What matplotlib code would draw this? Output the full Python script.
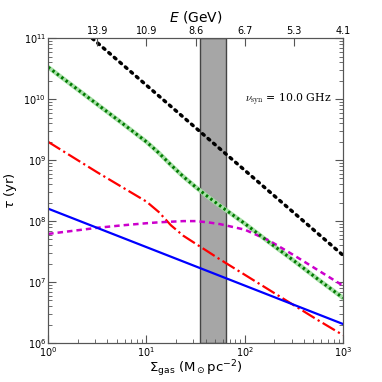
import numpy as np
import matplotlib
matplotlib.use('Agg')
import matplotlib.pyplot as plt

plt.rcParams['mathtext.fontset'] = 'dejavusans'

# Gas surface density grid (log10 Msun/pc^2)
logSigma = [0.0, 0.25, 0.5, 0.75, 1.0, 1.125, 1.25, 1.375, 1.5, 1.625, 1.75, 2.0, 2.25, 2.5, 2.75, 3.0]

# log10 timescales (yr)
logTauGreen = [10.525, 10.22, 9.915, 9.61, 9.30, 9.12, 8.92, 8.73, 8.56, 8.40, 8.25, 7.96, 7.65, 7.35, 7.04, 6.74]
logTauRed = [9.30, 9.05, 8.80, 8.56, 8.32, 8.15, 7.93, 7.76, 7.63, 7.50, 7.37, 7.12, 6.87, 6.62, 6.37, 6.13]
logTauMagenta = [7.79, 7.84, 7.89, 7.93, 7.965, 7.98, 7.99, 8.0, 8.0, 7.98, 7.95, 7.86, 7.68, 7.44, 7.19, 6.94]

# straight lines: endpoints at Sigma = 1 and 1000
sigmaEnds = [1.0, 1000.0]
tauBlue = [1.6e8, 2.05e6]
tauBlack = [4.2e11, 2.75e7]

# shaded band in Sigma
bandSigma = [35.0, 65.0]

# top axis: electron energy labels
topTickSigma = [10**0.5, 10**1.0, 10**1.5, 10**2.0, 10**2.5, 10**3.0]
topTickLabels = ['13.9', '10.9', '8.6', '6.7', '5.3', '4.1']

sigma = 10**np.array(logSigma)

fig = plt.figure(figsize=(3.82, 3.82), dpi=100)
ax = fig.add_axes([0.126, 0.102, 0.772, 0.798])

ax.axvspan(bandSigma[0], bandSigma[1], facecolor='#a6a6a6', edgecolor='#444444', lw=1.0, zorder=1)

ax.plot(sigmaEnds, tauBlack, color='black', ls=(0, (0.6, 1.5)), lw=2.5, dash_capstyle='round', zorder=3)
ax.plot(sigma, 10**np.array(logTauGreen), color='#a8e0a8', lw=3.2, zorder=3)
ax.plot(sigma, 10**np.array(logTauGreen), color='#007a00', ls=(0, (0.8, 1.0)), lw=2.2, zorder=4)
ax.plot(sigma, 10**np.array(logTauRed), color='red', ls='-.', lw=1.6, zorder=3)
ax.plot(sigma, 10**np.array(logTauMagenta), color='#cc00cc', ls=(0, (2.2, 1.6)), lw=1.8, zorder=3)
ax.plot(sigmaEnds, tauBlue, color='blue', ls='-', lw=1.6, zorder=3)

ax.set_xscale('log')
ax.set_yscale('log')
ax.set_xlim(1, 1000)
ax.set_ylim(1e6, 1e11)

for sp in ax.spines.values():
    sp.set_color('#555555')
ax.tick_params(which='both', direction='in', right=True, top=False, colors='#555555',
               labelcolor='black', labelsize=7, pad=1.5)
ax.tick_params(which='major', length=6)
ax.tick_params(which='minor', length=3)

ax.set_xlabel(r'$\Sigma_{\rm gas}$ (M$_\odot$pc$^{-2}$)', fontsize=9.5)
ax.set_ylabel(r'$\tau$ (yr)', fontsize=9.5)
ax.xaxis.set_label_coords(0.5, -0.05)
ax.yaxis.set_label_coords(-0.10, 0.5)

ax.text(0.668, 0.79, r'$\nu_{\rm syn}$ = 10.0 GHz', transform=ax.transAxes, fontsize=7.8,
        family='DejaVu Serif', math_fontfamily='cm')

# Top axis with energy labels
axTop = ax.twiny()
axTop.set_xscale('log')
axTop.set_xlim(1, 1000)
axTop.set_xticks(topTickSigma)
axTop.set_xticklabels(topTickLabels)
axTop.xaxis.set_minor_locator(matplotlib.ticker.NullLocator())
axTop.tick_params(direction='in', length=6, colors='#555555', labelcolor='black', labelsize=7, pad=1.5)
for sp in axTop.spines.values():
    sp.set_color('#555555')
axTop.set_xlabel(r'$E$ (GeV)', fontsize=10)
axTop.xaxis.set_label_coords(0.5, 1.056)

fig.savefig('out.png', dpi=100)
